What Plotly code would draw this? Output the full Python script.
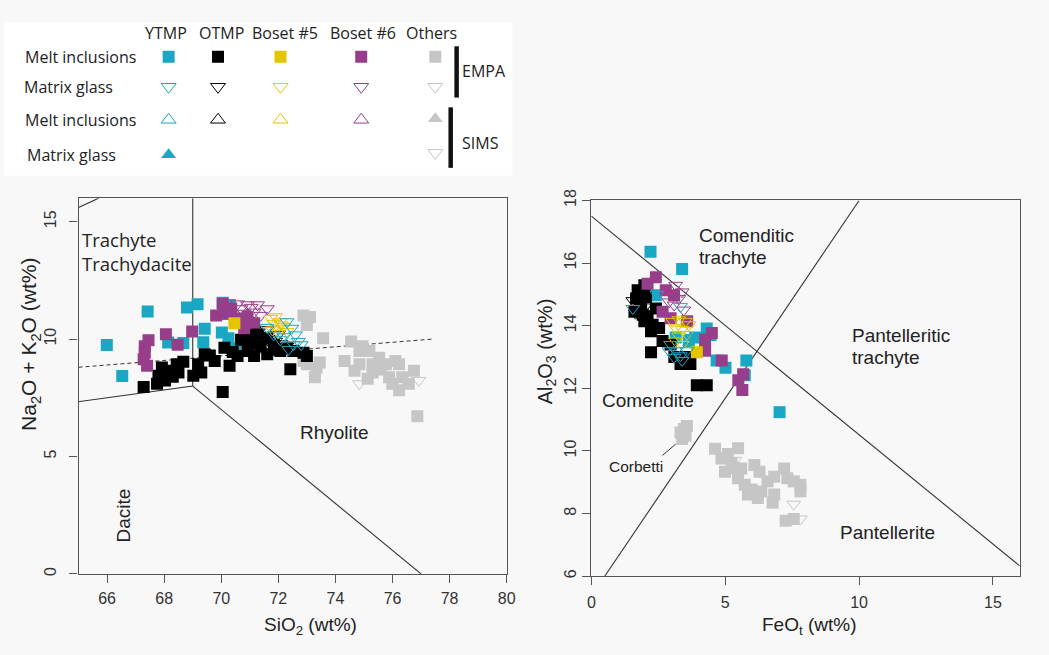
import plotly.graph_objects as go

W, H = 1049, 655

# ---------------- TAS diagram (SiO2 vs Na2O+K2O) ----------------
tas_ytmp_mi_sio2 = [65.99, 66.53, 67.42, 68.80, 69.17, 69.42, 69.37, 68.14, 68.67, 70.02, 70.10, 70.50, 70.25, 71.30, 70.05, 70.30]
tas_ytmp_mi_alk = [9.75, 8.43, 11.18, 11.35, 11.48, 10.44, 9.87, 9.85, 9.83, 10.28, 11.08, 9.60, 10.04, 10.08, 11.55, 11.45]

tas_otmp_mi_sio2 = [67.28, 67.75, 67.80, 68.03, 68.15, 67.92, 68.50, 68.44, 68.67, 69.02, 69.30, 69.19, 69.42, 69.77,
                    70.05, 70.29, 70.11, 70.57, 70.69, 70.92, 71.15, 71.38, 71.61, 71.84, 72.07, 72.42, 72.53, 73.00,
                    72.88, 70.92, 71.27, 71.61, 70.40, 71.00, 71.90, 72.30, 69.60, 68.30]
tas_otmp_mi_alk = [7.96, 8.10, 8.44, 8.24, 8.65, 8.79, 8.58, 8.93, 9.04, 8.44, 8.58, 8.93, 9.35, 9.07,
                   7.75, 8.86, 9.63, 9.28, 9.97, 9.49, 9.28, 9.69, 9.35, 9.76, 9.49, 8.72, 9.49, 9.28,
                   9.42, 10.18, 10.18, 10.04, 9.45, 9.80, 9.55, 9.60, 9.30, 8.40]

tas_b6_mi_sio2 = [67.32, 67.32, 67.28, 67.40, 67.45, 68.06, 68.47, 68.98, 70.05, 69.82, 70.17, 70.57, 70.92, 71.15, 70.80, 70.35]
tas_b6_mi_alk = [9.69, 9.42, 9.14, 8.86, 9.95, 10.21, 9.76, 10.32, 11.50, 11.01, 11.08, 10.88, 10.94, 10.67, 10.46, 11.30]

tas_b5_mi_sio2 = [70.46]
tas_b5_mi_alk = [10.67]

tas_otmp_mg_sio2 = [71.30, 71.50, 71.70, 71.90, 72.10, 72.30, 71.60, 72.00, 71.40, 71.80]
tas_otmp_mg_alk = [10.30, 10.10, 10.00, 9.90, 9.80, 9.70, 10.40, 10.20, 9.95, 9.70]

tas_b6_mg_sio2 = [70.57, 70.92, 71.27, 71.61, 70.69, 71.15, 71.38, 70.80, 71.05]
tas_b6_mg_alk = [11.50, 11.46, 11.46, 11.29, 11.29, 11.15, 11.01, 11.10, 11.35]

tas_b5_mg_sio2 = [71.73, 71.84, 71.96, 72.07, 72.19, 72.30, 72.00, 71.79, 71.90, 72.10]
tas_b5_mg_alk = [10.88, 10.67, 10.46, 10.74, 10.53, 10.32, 10.25, 10.39, 10.95, 10.60]

tas_ytmp_mg_sio2 = [72.30, 72.47, 72.60, 72.70, 72.80, 72.53, 72.07, 72.36, 71.84, 72.20, 71.60]
tas_ytmp_mg_alk = [10.74, 10.46, 10.18, 9.90, 9.76, 9.76, 9.97, 9.56, 10.18, 10.10, 10.50]

tas_oth_mi_sio2 = [72.88, 73.11, 73.00, 73.57, 73.00, 73.34, 73.28, 72.88, 73.45, 74.32, 74.55, 74.84, 75.19, 75.30,
                   74.84, 75.53, 75.77, 75.88, 76.23, 76.34, 76.23, 76.57, 76.75, 76.87, 75.30, 75.13, 75.99, 74.67,
                   76.10, 75.60, 74.95]
tas_oth_mi_alk = [11.01, 10.94, 10.60, 10.04, 8.93, 8.79, 8.38, 9.07, 9.00, 9.07, 9.90, 9.49, 9.49, 8.93,
                  8.93, 9.21, 8.93, 8.38, 8.93, 8.38, 7.82, 8.10, 8.65, 6.71, 8.58, 8.31, 8.10, 8.65,
                  9.07, 8.70, 9.70]
tas_oth_mg_sio2 = [74.84, 76.92]
tas_oth_mg_alk = [8.10, 8.24]

# TAS field boundaries
tas_bound_a_x = [63.0, 69.0, 69.0]
tas_bound_a_y = [7.0, 8.0, 16.0]
tas_bound_b_x = [69.0, 77.0]
tas_bound_b_y = [8.0, 0.0]
tas_bound_c_x = [65.0, 65.7]
tas_bound_c_y = [15.6, 16.0]
tas_alk_sub_x = [65.0, 77.4]
tas_alk_sub_y = [8.8, 10.0]

# ---------------- FeOt vs Al2O3 (Macdonald) ----------------
mac_ytmp_mi_feo = [2.21, 3.39, 4.31, 5.79, 5.01, 4.68, 7.03, 2.41, 3.15, 3.64, 3.88, 5.73, 4.45]
mac_ytmp_mi_al = [16.36, 15.81, 13.91, 12.89, 12.66, 12.89, 11.24, 14.97, 13.62, 13.51, 13.62, 12.42, 13.70]

mac_otmp_mi_feo = [1.73, 1.67, 1.86, 1.61, 1.92, 1.98, 2.29, 2.23, 2.53, 2.66, 2.96, 2.23, 3.33, 3.70, 3.94, 4.31,
                   2.04, 2.41, 1.98, 1.80, 2.10, 3.10, 3.50]
mac_otmp_mi_al = [15.13, 14.87, 14.66, 14.45, 14.35, 14.14, 14.03, 13.82, 13.93, 13.51, 13.40, 13.15, 12.78, 12.78,
                  12.10, 12.10, 14.92, 14.55, 15.29, 14.70, 14.30, 13.00, 13.00]

mac_b6_mi_feo = [2.10, 2.41, 2.78, 2.66, 2.96, 3.58, 4.25, 4.50, 4.25, 4.87, 5.49, 5.67, 5.64, 3.09]
mac_b6_mi_al = [15.34, 15.55, 15.13, 14.45, 14.24, 14.14, 13.56, 13.77, 13.20, 12.89, 12.26, 12.45, 11.95, 14.97]

mac_b5_mi_feo = [3.94]
mac_b5_mi_al = [13.15]

mac_otmp_mg_feo = [1.55, 1.75, 2.00, 1.65]
mac_otmp_mg_al = [14.80, 14.95, 14.60, 14.40]

mac_b6_mg_feo = [3.15, 2.96, 3.27, 3.09, 3.39, 2.90, 3.45]
mac_b6_mg_al = [15.29, 15.03, 14.87, 14.66, 15.08, 14.76, 14.50]

mac_b5_mg_feo = [3.03, 3.27, 3.51, 3.15, 3.39, 3.27, 3.57, 3.15, 3.39, 3.64]
mac_b5_mg_al = [14.14, 14.19, 14.14, 13.93, 13.88, 13.67, 13.72, 13.51, 13.40, 14.03]

mac_ytmp_mg_feo = [2.96, 3.15, 3.33, 3.09, 3.39, 2.90, 3.57, 3.76, 1.55, 3.33, 2.45]
mac_ytmp_mg_al = [13.40, 13.20, 13.04, 12.99, 12.89, 13.20, 13.20, 13.62, 14.55, 14.61, 15.00]

mac_oth_mi_feo = [3.46, 3.52, 3.33, 3.57, 3.39, 4.62, 5.48, 4.86, 5.24, 4.99, 5.60, 6.09, 6.28, 5.48, 5.73, 5.98,
                  6.35, 6.22, 5.85, 6.58, 6.83, 7.20, 7.32, 7.56, 7.81, 7.81, 6.83, 6.77, 7.26, 7.56, 5.10, 5.35]
mac_oth_mi_al = [10.70, 10.49, 10.59, 10.80, 10.38, 10.07, 10.09, 9.76, 9.60, 9.34, 9.44, 9.55, 9.34, 9.13, 8.92, 8.77,
                 8.71, 8.50, 8.61, 9.03, 9.18, 9.44, 9.13, 9.03, 8.92, 8.71, 8.61, 8.35, 7.77, 7.83, 9.90, 9.45]
mac_oth_mg_feo = [7.56, 7.81, 5.36]
mac_oth_mg_al = [8.30, 7.83, 9.70]

# Macdonald (1974) field boundaries
mac_bound_a_x = [0.0, 16.0]
mac_bound_a_y = [17.5, 6.33]
mac_bound_b_x = [0.5, 10.0]
mac_bound_b_y = [6.0, 18.0]
corbetti_leader_x = [2.66, 3.15]
corbetti_leader_y = [9.86, 10.22]

# ---------------- legend content ----------------
legend_groups = ["YTMP", "OTMP", "Boset #5", "Boset #6", "Others"]
legend_rows = ["Melt inclusions", "Matrix glass", "Melt inclusions", "Matrix glass"]
legend_methods = ["EMPA", "SIMS"]

# ---------------- styling ----------------
CYAN = "#19a7c4"
BLACK = "#000000"
YELLOW = "#e3c500"
PURPLE = "#973e8a"
GREY = "#c6c6c6"
group_colors = [CYAN, BLACK, YELLOW, PURPLE, GREY]

ARIAL = "Liberation Sans, Arial, sans-serif"
MYRIAD = "Open Sans, Noto Sans, sans-serif"
INK = "#222222"
AXIS_COL = "#555555"

BG = "#f8f8f8"

fig = go.Figure()


def px_x(v):
    return v / W


def px_y(v):
    return 1 - v / H


SQ = 12
TRI = 12


def add_points(x, y, color, kind, xa, ya):
    if kind == "sq":
        marker = dict(symbol="square", size=SQ, color=color, line=dict(width=0))
    else:
        marker = dict(symbol="triangle-down-open", size=TRI, color=color, line=dict(width=1, color=color))
    fig.add_trace(go.Scatter(x=x, y=y, mode="markers", marker=marker, xaxis=xa, yaxis=ya,
                             showlegend=False, hoverinfo="skip", cliponaxis=True))


def add_line(x, y, xa, ya, dash="solid", width=1.1, color="#333333"):
    fig.add_trace(go.Scatter(x=x, y=y, mode="lines", line=dict(color=color, width=width, dash=dash),
                             xaxis=xa, yaxis=ya, showlegend=False, hoverinfo="skip"))


# TAS boundaries
add_line(tas_bound_a_x, tas_bound_a_y, "x", "y")
add_line(tas_bound_b_x, tas_bound_b_y, "x", "y")
add_line(tas_bound_c_x, tas_bound_c_y, "x", "y")
add_line(tas_alk_sub_x, tas_alk_sub_y, "x", "y", dash="4px,3px", width=1)

# TAS points
add_points(tas_oth_mi_sio2, tas_oth_mi_alk, GREY, "sq", "x", "y")
add_points(tas_oth_mg_sio2, tas_oth_mg_alk, GREY, "tri", "x", "y")
add_points(tas_ytmp_mi_sio2, tas_ytmp_mi_alk, CYAN, "sq", "x", "y")
add_points(tas_otmp_mi_sio2, tas_otmp_mi_alk, BLACK, "sq", "x", "y")
add_points(tas_b6_mi_sio2, tas_b6_mi_alk, PURPLE, "sq", "x", "y")
add_points(tas_b5_mi_sio2, tas_b5_mi_alk, YELLOW, "sq", "x", "y")
add_points(tas_otmp_mg_sio2, tas_otmp_mg_alk, BLACK, "tri", "x", "y")
add_points(tas_b6_mg_sio2, tas_b6_mg_alk, PURPLE, "tri", "x", "y")
add_points(tas_b5_mg_sio2, tas_b5_mg_alk, YELLOW, "tri", "x", "y")
add_points(tas_ytmp_mg_sio2, tas_ytmp_mg_alk, CYAN, "tri", "x", "y")

# Macdonald boundaries
add_line(mac_bound_a_x, mac_bound_a_y, "x2", "y2")
add_line(mac_bound_b_x, mac_bound_b_y, "x2", "y2")
add_line(corbetti_leader_x, corbetti_leader_y, "x2", "y2", width=1)

# Macdonald points
add_points(mac_oth_mi_feo, mac_oth_mi_al, GREY, "sq", "x2", "y2")
add_points(mac_oth_mg_feo, mac_oth_mg_al, GREY, "tri", "x2", "y2")
add_points(mac_ytmp_mi_feo, mac_ytmp_mi_al, CYAN, "sq", "x2", "y2")
add_points(mac_otmp_mi_feo, mac_otmp_mi_al, BLACK, "sq", "x2", "y2")
add_points(mac_b6_mi_feo, mac_b6_mi_al, PURPLE, "sq", "x2", "y2")
add_points(mac_b5_mi_feo, mac_b5_mi_al, YELLOW, "sq", "x2", "y2")
add_points(mac_otmp_mg_feo, mac_otmp_mg_al, BLACK, "tri", "x2", "y2")
add_points(mac_b6_mg_feo, mac_b6_mg_al, PURPLE, "tri", "x2", "y2")
add_points(mac_b5_mg_feo, mac_b5_mg_al, YELLOW, "tri", "x2", "y2")
add_points(mac_ytmp_mg_feo, mac_ytmp_mg_al, CYAN, "tri", "x2", "y2")

# ---------------- legend block (own axes, pixel units) ----------------
LEG_W, LEG_H = 524.5, 170.3
col_x = [166.7, 216.7, 280.0, 361.7, 436.7]
head_x = [164.0, 220.0, 285.0, 363.0, 433.0]
row_y = [46.7, 77.3, 111.0, 146.7]


def leg_marker(x, y, symbol, color, size, lw=1.0):
    fig.add_trace(go.Scatter(x=[x], y=[y], mode="markers", xaxis="x3", yaxis="y3",
                             marker=dict(symbol=symbol, size=size, color=color,
                                         line=dict(width=lw, color=color)),
                             showlegend=False, hoverinfo="skip", cliponaxis=False))


for i, c in enumerate(group_colors):
    leg_marker(col_x[i], row_y[0], "square", c, 12, 0)
    leg_marker(col_x[i], row_y[1], "triangle-down-open", c, 13, 1)
    if i < 4:
        leg_marker(col_x[i], row_y[2], "triangle-up-open", c, 13, 1)
leg_marker(col_x[4], row_y[2] - 1, "triangle-up", GREY, 13, 0)
leg_marker(col_x[0], row_y[3], "triangle-up", CYAN, 13, 0)
leg_marker(col_x[4], row_y[3] - 2, "triangle-down-open", GREY, 13, 1)

annotations = []
for i, name in enumerate(legend_groups):
    annotations.append(dict(x=head_x[i], y=22, xref="x3", yref="y3", text=name, showarrow=False,
                            xanchor="center", yanchor="middle", font=dict(family=MYRIAD, size=16, color=INK)))
row_label_x = [19.0, 18.0, 19.0, 21.5]
for i, name in enumerate(legend_rows):
    annotations.append(dict(x=row_label_x[i], y=row_y[i], xref="x3", yref="y3", text=name, showarrow=False,
                            xanchor="left", yanchor="middle", font=dict(family=MYRIAD, size=16, color=INK)))
annotations.append(dict(x=462, y=61.7, xref="x3", yref="y3", text=legend_methods[0], showarrow=False,
                        xanchor="left", yanchor="middle", font=dict(family=MYRIAD, size=16, color=INK)))
annotations.append(dict(x=462, y=135, xref="x3", yref="y3", text=legend_methods[1], showarrow=False,
                        xanchor="left", yanchor="middle", font=dict(family=MYRIAD, size=16, color=INK)))

shapes = [
    dict(type="rect", xref="paper", yref="paper", x0=px_x(0), x1=px_x(515), y0=px_y(168), y1=px_y(12),
         fillcolor="#ffffff", line=dict(width=0), layer="below"),
    dict(type="line", xref="x3", yref="y3", x0=458.3, x1=458.3, y0=36, y1=88.3,
         line=dict(color="#111111", width=4.5)),
    dict(type="line", xref="x3", yref="y3", x0=452.3, x1=452.3, y0=98.3, y1=160,
         line=dict(color="#111111", width=4.5)),
]

# ---------------- field labels ----------------
def field_label(x, y, text, xa, ya, size=19, family=ARIAL, anchor="left", angle=0):
    annotations.append(dict(x=x, y=y, xref=xa, yref=ya, text=text, showarrow=False, xanchor=anchor,
                            yanchor="middle", textangle=angle, font=dict(family=family, size=size, color=INK)))


field_label(65.05, 14.23, "Trachyte", "x", "y", size=18.5, family=MYRIAD)
field_label(65.05, 13.23, "Trachydacite", "x", "y", size=18.5, family=MYRIAD)
field_label(73.96, 6.04, "Rhyolite", "x", "y", anchor="center")
field_label(66.58, 2.47, "Dacite", "x", "y", anchor="center", angle=-90)

field_label(3.95, 16.88, "Comenditic", "x2", "y2")
field_label(3.95, 16.17, "trachyte", "x2", "y2")
field_label(9.66, 13.70, "Pantelleritic", "x2", "y2")
field_label(9.66, 12.99, "trachyte", "x2", "y2")
field_label(0.34, 11.62, "Comendite", "x2", "y2")
field_label(9.20, 7.41, "Pantellerite", "x2", "y2")
field_label(1.67, 9.50, "Corbetti", "x2", "y2", size=15.5, anchor="center")

# axis titles
def axis_title(xp, yp, text, angle=0, size=19):
    annotations.append(dict(x=px_x(xp), y=px_y(yp), xref="paper", yref="paper", text=text, showarrow=False,
                            xanchor="center", yanchor="middle", textangle=angle,
                            font=dict(family=ARIAL, size=size, color=INK)))


axis_title(310, 627, "SiO<sub>2</sub> (wt%)")
axis_title(815, 627, "FeO<sub>t</sub> (wt%)")
axis_title(27, 340, "Na<sub>2</sub>O + K<sub>2</sub>O (wt%)", angle=-90, size=21)
axis_title(549, 347, "Al<sub>2</sub>O<sub>3</sub> (wt%)", angle=-90, size=20)

axis_common = dict(showgrid=False, zeroline=False, showline=True, mirror=True, linecolor=AXIS_COL,
                   linewidth=1.3, ticks="outside", ticklen=8, tickcolor=AXIS_COL, tickwidth=1.2,
                   tickfont=dict(family=ARIAL, size=16, color="#333333"))

fig.update_layout(
    width=W, height=H, margin=dict(l=0, r=0, t=0, b=0),
    paper_bgcolor=BG, plot_bgcolor=BG, showlegend=False,
    xaxis=dict(domain=[px_x(75.5), px_x(509)], range=[65, 80], tickvals=list(range(66, 81, 2)),
               anchor="y", ticklabelstandoff=2, **axis_common),
    yaxis=dict(domain=[px_y(574.3), px_y(191)], range=[0, 16], tickvals=[0, 5, 10, 15], tickangle=-90,
               anchor="x", ticklabelstandoff=7, **axis_common),
    xaxis2=dict(domain=[px_x(594.7), px_x(1028.5)], range=[0, 16], tickvals=[0, 5, 10, 15],
                anchor="y2", ticklabelstandoff=3, **axis_common),
    yaxis2=dict(domain=[px_y(576.7), px_y(193.3)], range=[6, 18], tickvals=list(range(6, 19, 2)), tickangle=-90,
                anchor="x2", **axis_common),
    xaxis3=dict(domain=[0, px_x(LEG_W)], range=[0, LEG_W], visible=False, fixedrange=True, anchor="y3"),
    yaxis3=dict(domain=[px_y(LEG_H), 1], range=[LEG_H, 0], visible=False, fixedrange=True, anchor="x3"),
    annotations=annotations,
    shapes=shapes,
)

fig.write_html("out.html")
